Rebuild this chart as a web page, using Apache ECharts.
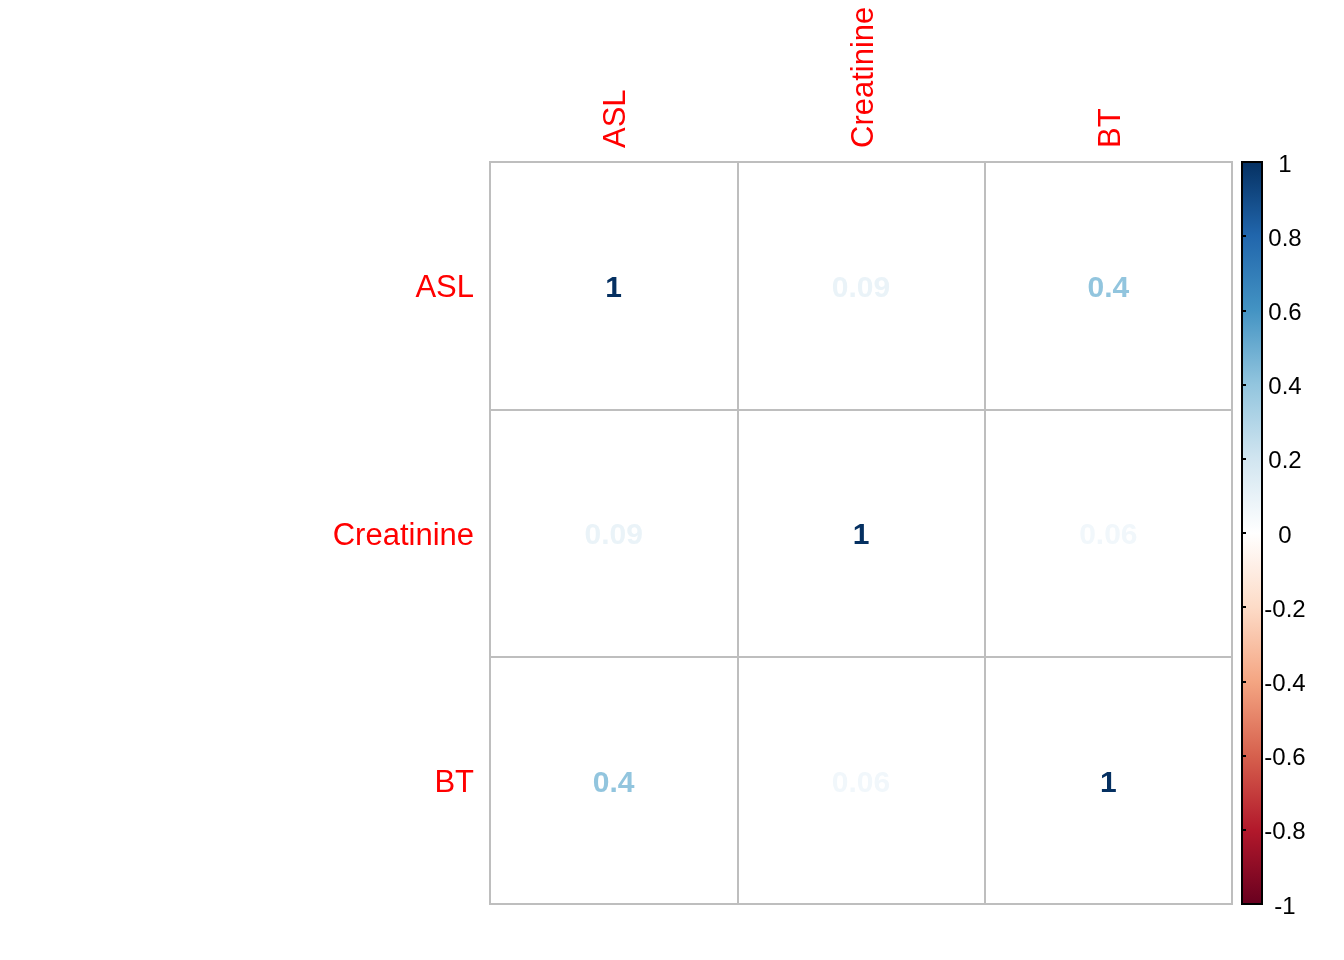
<!DOCTYPE html>
<html>
<head>
<meta charset="utf-8">
<script src="https://cdn.jsdelivr.net/npm/echarts@6/dist/echarts.min.js"></script>
<style>html,body{margin:0;padding:0;background:#fff}#c{width:1344px;height:960px}</style>
</head>
<body>
<div id="c"></div>
<script>
var variables = ['ASL', 'Creatinine', 'BT'];
var corrMatrix = [
  [1, 0.09, 0.4],
  [0.09, 1, 0.06],
  [0.4, 0.06, 1]
];
var corrLabels = [
  ['1', '0.09', '0.4'],
  ['0.09', '1', '0.06'],
  ['0.4', '0.06', '1']
];
var palette = ['#67001F', '#B2182B', '#D6604D', '#F4A582', '#FDDBC7', '#FFFFFF',
               '#D1E5F0', '#92C5DE', '#4393C3', '#2166AC', '#053061'];
var colorbarTicks = [-1, -0.8, -0.6, -0.4, -0.2, 0, 0.2, 0.4, 0.6, 0.8, 1];

function hex2rgb(h){return [parseInt(h.substr(1,2),16),parseInt(h.substr(3,2),16),parseInt(h.substr(5,2),16)];}
function colorFor(v){
  var t = (v + 1) / 2 * (palette.length - 1);
  var i = Math.min(Math.floor(t), palette.length - 2);
  var f = t - i;
  var a = hex2rgb(palette[i]), b = hex2rgb(palette[i+1]);
  var c = a.map(function(x, k){return Math.round(x + (b[k]-x)*f);});
  return 'rgb(' + c.join(',') + ')';
}

var cells = [];
for (var r = 0; r < variables.length; r++) {
  for (var c = 0; c < variables.length; c++) {
    cells.push({
      value: [c, r, corrMatrix[r][c]],
      label: { color: colorFor(corrMatrix[r][c]), formatter: corrLabels[r][c] }
    });
  }
}

var stops = palette.map(function(col, i){ return {offset: 1 - i/(palette.length-1), color: col}; });
var FONT = 'Liberation Sans, Arial, sans-serif';

var chart = echarts.init(document.getElementById('c'));
chart.setOption({
  backgroundColor: '#fff',
  animation: false,
  grid: [
    {left: 490, top: 162, width: 742, height: 742, show: true, borderColor: '#BEBEBE', borderWidth: 2, backgroundColor: 'transparent'},
    {left: 1242, top: 162, width: 20, height: 742, show: true, borderColor: '#000', borderWidth: 2,
     backgroundColor: {type: 'linear', x: 0, y: 0, x2: 0, y2: 1, colorStops: stops}}
  ],
  xAxis: [
    {type: 'category', gridIndex: 0, data: variables, position: 'top',
     axisLine: {show: false}, axisTick: {show: false},
     splitLine: {show: true, interval: 0, lineStyle: {color: '#BEBEBE', width: 2}},
     axisLabel: {rotate: -90, color: '#FF0000', fontSize: 31, fontFamily: FONT, margin: 14, interval: 0,
       formatter: '{a|{value}}', rich: {a: {color: '#FF0000', fontSize: 31, fontFamily: FONT, padding: [6, 0, 0, 0]}}}},
    {type: 'value', gridIndex: 1, show: false, min: 0, max: 1}
  ],
  yAxis: [
    {type: 'category', gridIndex: 0, data: variables, inverse: true,
     axisLine: {show: false}, axisTick: {show: false},
     splitLine: {show: true, interval: 0, lineStyle: {color: '#BEBEBE', width: 2}},
     axisLabel: {color: '#FF0000', fontSize: 31, fontFamily: FONT, margin: 16, interval: 0,
       formatter: '{a|{value}}', rich: {a: {color: '#FF0000', fontSize: 31, fontFamily: FONT, padding: [6, 0, 0, 0]}}}},
    {type: 'value', gridIndex: 1, position: 'right', min: -1, max: 1, interval: 0.2,
     axisLine: {show: false}, splitLine: {show: false},
     axisTick: {show: true, inside: false, length: 4, lineStyle: {color: '#000', width: 2}},
     axisLabel: {show: true, color: '#000', fontSize: 24, fontFamily: FONT, margin: 23, align: 'center',
       rich: {a: {color: '#000', fontSize: 24, fontFamily: FONT, padding: [6, 0, 0, 0]}},
       formatter: function(v){ var t = colorbarTicks.reduce(function(p, q){ return Math.abs(q - v) < Math.abs(p - v) ? q : p; }); return '{a|' + String(t) + '}'; }}}
  ],
  series: [{
    type: 'heatmap',
    xAxisIndex: 0, yAxisIndex: 0,
    data: cells,
    itemStyle: {color: 'rgba(255,255,255,0)'},
    label: {show: true, fontSize: 30, fontWeight: 'bold', fontFamily: FONT, offset: [0, 3]},
    emphasis: {disabled: true}
  }]
});
</script>
</body>
</html>
